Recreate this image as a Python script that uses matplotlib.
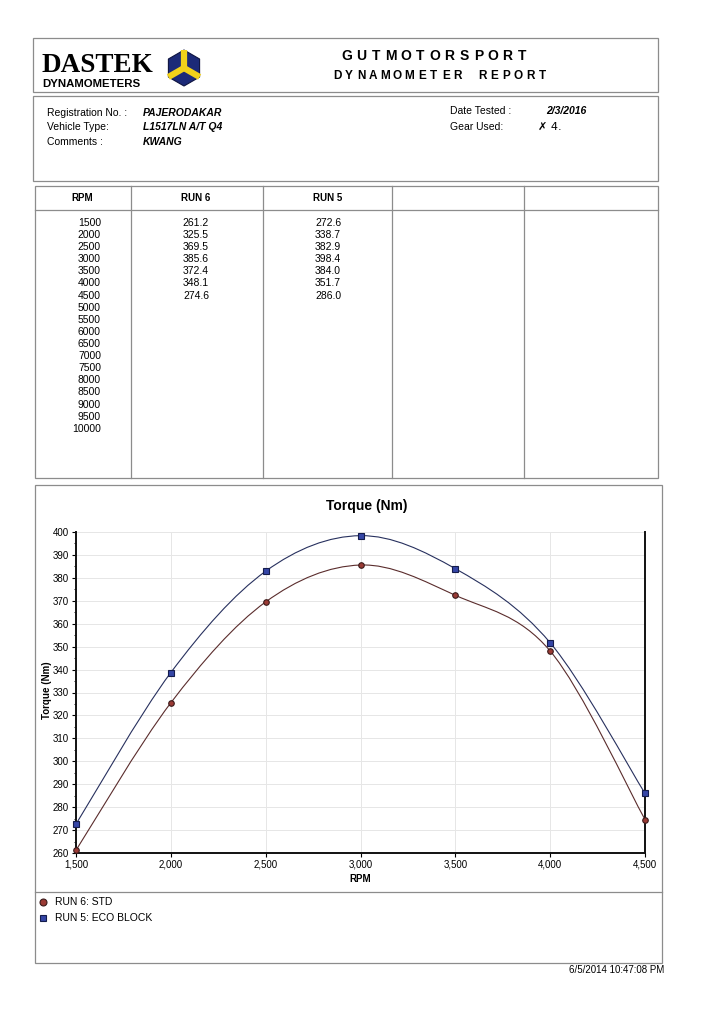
import matplotlib

matplotlib.use("Agg")

import matplotlib.pyplot as plt
import numpy as np
from matplotlib.patches import Rectangle, Polygon, PathPatch
from matplotlib.path import Path
from matplotlib.ticker import MultipleLocator, StrMethodFormatter

plt.rcParams["font.family"] = ["Liberation Sans", "DejaVu Sans"]

# table / chart data
table_rpm = [1500, 2000, 2500, 3000, 3500, 4000, 4500, 5000, 5500,
             6000, 6500, 7000, 7500, 8000, 8500, 9000, 9500, 10000]
chart_rpm = [1500, 2000, 2500, 3000, 3500, 4000, 4500]
run6 = [261.2, 325.5, 369.5, 385.6, 372.4, 348.1, 274.6]
run5 = [272.6, 338.7, 382.9, 398.4, 384.0, 351.7, 286.0]
legend_labels = ["RUN 6: STD", "RUN 5: ECO BLOCK"]

info_left = [("Registration No. :", "PAJERODAKAR"),
             ("Vehicle Type:", "L1517LN A/T Q4"),
             ("Comments :", "KWANG")]

W, H = 727, 1024
BOX = "#8c8c8c"
C6_LINE, C6_FACE, C6_EDGE = "#5a2c2c", "#9a3a34", "#3a1a1a"
C5_LINE, C5_FACE, C5_EDGE = "#27305e", "#3546a6", "#141c4c"


# Catmull-Rom style smoothing, drawn as bezier segments through the data
def smooth_path(xs, ys):
    pts = np.column_stack([xs, ys]).astype(float)
    n = len(pts)
    verts = [pts[0]]
    codes = [Path.MOVETO]
    for i in range(n - 1):
        p0 = pts[max(i - 1, 0)]
        p1 = pts[i]
        p2 = pts[i + 1]
        p3 = pts[min(i + 2, n - 1)]
        verts += [p1 + (p2 - p0) / 6, p2 - (p3 - p1) / 6, p2]
        codes += [Path.CURVE4] * 3
    return Path(verts, codes)


def spaced(ax, x0, step, y, s, **kw):
    for i, ch in enumerate(s):
        ax.text(x0 + i * step, y, ch, ha="center", va="center", **kw)


def box(ax, x0, y0, x1, y1):
    ax.add_patch(Rectangle((x0, y0), x1 - x0, y1 - y0, fill=False,
                           ec=BOX, lw=0.9))


fig = plt.figure(figsize=(W / 100, H / 100), dpi=100)
page = fig.add_axes([0, 0, 1, 1])
page.set_xlim(0, W)
page.set_ylim(H, 0)
page.axis("off")

# header
box(page, 33, 38, 658, 92)
page.text(42, 72, "DASTEK", fontsize=19.5, fontweight="bold",
          family="Liberation Serif", va="baseline", ha="left")
page.text(42, 87, "DYNAMOMETERS", fontsize=8.2, fontweight="bold",
          va="baseline", ha="left")
cx, cy, r = 184, 68, 18
ang = np.deg2rad(90 + 60 * np.arange(6))
hexv = np.column_stack([cx + r * np.cos(ang), cy - r * np.sin(ang)])
page.add_patch(Polygon(hexv, closed=True, fc="#1c2a78", ec="#0e1440", lw=0.8))
for k in (0, 2, 4):
    page.plot([cx, hexv[k, 0]], [cy, hexv[k, 1]], color="#f2d21a",
              lw=4.5, solid_capstyle="butt")
spaced(page, 347, 14.6, 56, "GUTMOTORSPORT", fontsize=10, fontweight="bold")
spaced(page, 337, 12.1, 76, "DYNAMOMETER REPORT", fontsize=8.5,
       fontweight="bold")

# vehicle info
box(page, 33, 96, 658, 181)
for i, (lab, val) in enumerate(info_left):
    y = 113 + i * 14.5
    page.text(47, y, lab, fontsize=7.5, va="center")
    page.text(143, y, val, fontsize=7.5, va="center", style="italic",
              fontweight="bold")
page.text(450, 111, "Date Tested :", fontsize=7.5, va="center")
page.text(546, 111, "2/3/2016", fontsize=7.5, va="center", style="italic",
          fontweight="bold")
page.text(450, 127, "Gear Used:", fontsize=7.5, va="center")
page.text(538, 127, "\u2717 4.", fontsize=8, va="center",
          family="DejaVu Sans")

# data table
box(page, 35, 186, 658, 478)
page.plot([35, 658], [210, 210], color=BOX, lw=0.9)
for x in (131, 263, 392, 524):
    page.plot([x, x], [186, 478], color=BOX, lw=0.9)
for x, lab in ((82, "RPM"), (196, "RUN 6"), (328, "RUN 5")):
    page.text(x, 198, lab, fontsize=7, fontweight="bold", ha="center",
              va="center")
for i, rpm in enumerate(table_rpm):
    y = 223 + i * 12.1
    page.text(101, y, str(rpm), fontsize=7.5, ha="right", va="center")
    if i < len(run6):
        page.text(196, y, f"{run6[i]:.1f}", fontsize=7.5, ha="center",
                  va="center")
        page.text(328, y, f"{run5[i]:.1f}", fontsize=7.5, ha="center",
                  va="center")

# chart frame and legend
box(page, 35, 485, 662, 963)
page.plot([35, 662], [892, 892], color=BOX, lw=0.9)
page.text(367, 506, "Torque (Nm)", fontsize=10, fontweight="bold",
          ha="center", va="center")
page.text(47, 690, "Torque (Nm)", fontsize=7, fontweight="bold",
          rotation=90, ha="center", va="center")
page.text(360, 879, "RPM", fontsize=7, fontweight="bold", ha="center",
          va="center")
page.plot(43, 902, "o", ms=5, mfc=C6_FACE, mec=C6_EDGE, mew=0.8)
page.plot(43, 918, "s", ms=4.5, mfc=C5_FACE, mec=C5_EDGE, mew=0.8)
page.text(55, 902, legend_labels[0], fontsize=7.5, va="center")
page.text(55, 918, legend_labels[1], fontsize=7.5, va="center")
page.text(664, 970, "6/5/2014 10:47:08 PM", fontsize=7, ha="right",
          va="center")

# torque chart
ax = fig.add_axes([76 / W, 1 - 853 / H, (645 - 76) / W, (853 - 532) / H])
ax.set_xlim(1500, 4500)
ax.set_ylim(260, 400)
ax.set_facecolor("none")
ax.xaxis.set_major_locator(MultipleLocator(500))
ax.yaxis.set_major_locator(MultipleLocator(10))
ax.yaxis.set_minor_locator(MultipleLocator(5))
ax.xaxis.set_major_formatter(StrMethodFormatter("{x:,.0f}"))
ax.grid(True, which="major", color="#e6e6e6", lw=0.7)
ax.set_axisbelow(True)
for side in ("left", "bottom", "right"):
    ax.spines[side].set_linewidth(1.4)
    ax.spines[side].set_color("#111111")
ax.spines["top"].set_visible(False)
ax.tick_params(axis="both", which="major", labelsize=7, length=3,
               width=0.8, pad=2)
ax.tick_params(axis="y", which="minor", length=1.5, width=0.6)
ax.tick_params(axis="y", right=False)

ax.add_patch(PathPatch(smooth_path(chart_rpm, run5), fill=False,
                       ec=C5_LINE, lw=0.8))
ax.add_patch(PathPatch(smooth_path(chart_rpm, run6), fill=False,
                       ec=C6_LINE, lw=0.8))
ax.plot(chart_rpm, run5, "s", ms=4.5, mfc=C5_FACE, mec=C5_EDGE, mew=0.8,
        clip_on=False, zorder=5)
ax.plot(chart_rpm, run6, "o", ms=4, mfc=C6_FACE, mec=C6_EDGE, mew=0.8,
        clip_on=False, zorder=5)

fig.savefig("out.png", dpi=100)
